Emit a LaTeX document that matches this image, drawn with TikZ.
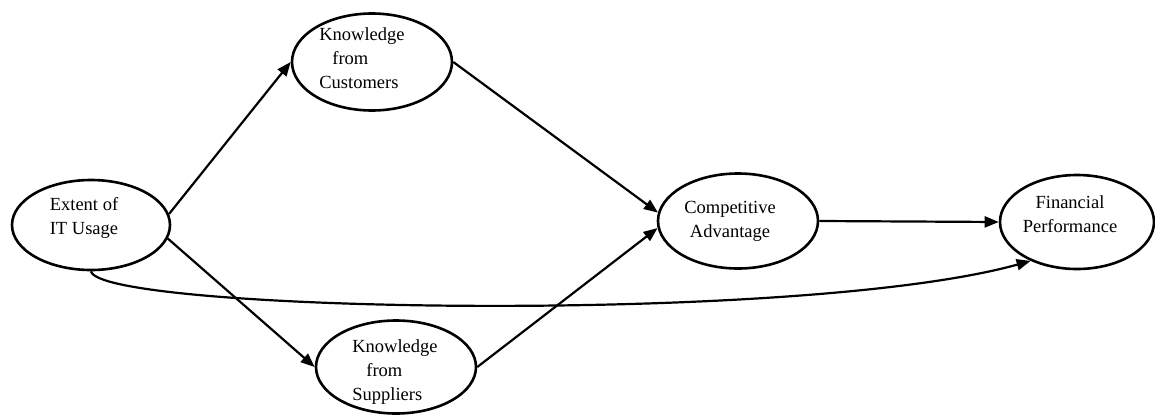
\documentclass[tikz,border=0pt]{standalone}
\usepackage{fontspec}
\setmainfont{Liberation Serif}
\usetikzlibrary{shapes.geometric,arrows.meta}
\begin{document}
\begin{tikzpicture}[x=1pt,y=-1pt,
  ell/.style={draw,ellipse,line width=2.6pt,inner sep=0pt},
  txt/.style={font=\fontsize{18.5}{24}\selectfont,inner sep=0pt},
  conn/.style={line width=2.2pt,-{Triangle[length=14pt,width=11pt]}}]
\useasboundingbox (0,0) rectangle (1155,415);
\node[ell,minimum width=158pt,minimum height=90pt] (ext) at (91,225) {};
\node[ell,minimum width=160pt,minimum height=97pt] (cust) at (372,62) {};
\node[ell,minimum width=160pt,minimum height=93pt] (sup) at (396,367) {};
\node[ell,minimum width=160pt,minimum height=95pt] (comp) at (738,221) {};
\node[ell,minimum width=154pt,minimum height=94pt] (fin) at (1077,222) {};
\node[txt,align=left] (ext-t) at (84,217.5) {Extent of\\IT Usage};
\node[txt,align=left] (cust-t) at (362,58) {Knowledge\\\hspace*{13pt}from\\Customers};
\node[txt,align=left] (sup-t) at (395,372) {Knowledge\\\hspace*{14pt}from\\Suppliers};
\node[txt,align=center] (comp-t) at (730,221.5) {Competitive\\Advantage};
\node[txt,align=center] (fin-t) at (1070,214.5) {Financial\\Performance};
\draw[conn] (ext.8) -- (cust.west);
\draw[conn] (ext.-10) -- (sup.west);
\draw[conn] (cust.east) -- (comp.174);
\draw[conn] (sup.east) -- (comp.185);
\draw[conn] (comp.east) -- (fin.west);
\draw[conn] (ext.south) .. controls (100,312) and (800,325) .. (fin.220);
\end{tikzpicture}
\end{document}
